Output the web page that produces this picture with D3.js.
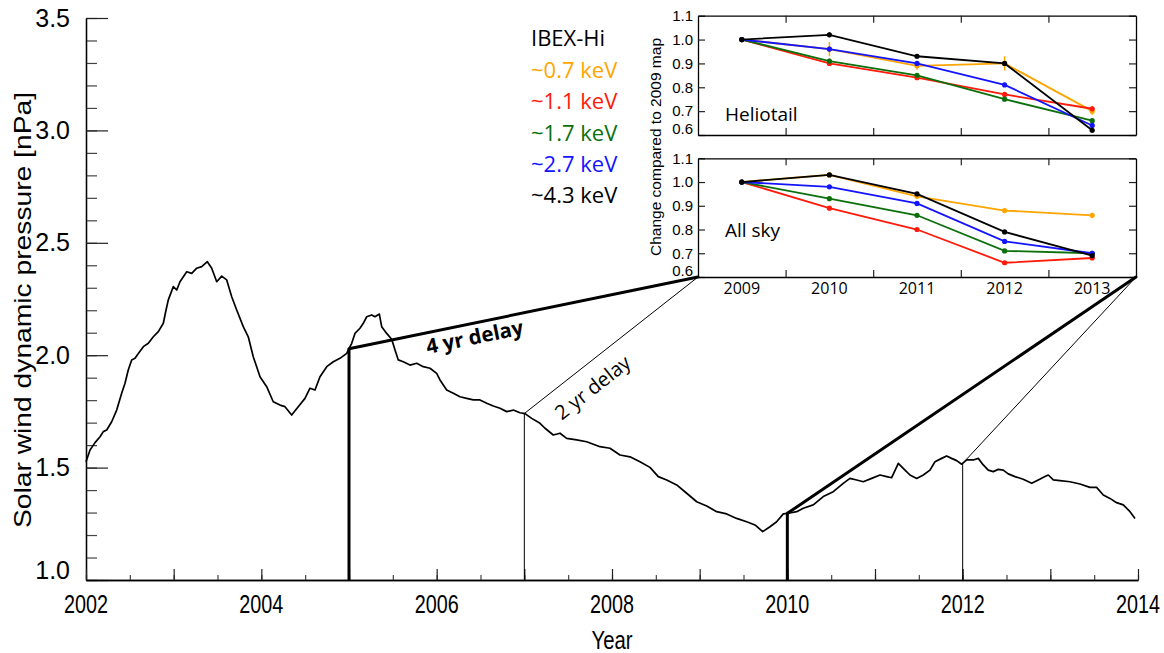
<!DOCTYPE html>
<html>
<head>
<meta charset="utf-8">
<script src="https://cdn.jsdelivr.net/npm/d3@7"></script>
<style>
  body { margin: 0; background: #fff; }
  svg { display: block; font-family: "Liberation Sans", Arial, sans-serif; }
  .hum { font-family: "Open Sans", sans-serif; }
</style>
</head>
<body>
<svg id="chart" width="1164" height="653"></svg>
<script>
// solar wind dynamic pressure (nPa)
var years = [2002.000, 2002.046, 2002.103, 2002.160, 2002.197, 2002.236, 2002.293, 2002.350, 2002.407, 2002.445,
  2002.482, 2002.521, 2002.559, 2002.597, 2002.654, 2002.711, 2002.768, 2002.825, 2002.882, 2002.913,
  2002.939, 2002.996, 2003.035, 2003.072, 2003.149, 2003.206, 2003.263, 2003.320, 2003.384, 2003.434,
  2003.491, 2003.548, 2003.605, 2003.662, 2003.719, 2003.794, 2003.851, 2003.908, 2003.985, 2004.061,
  2004.136, 2004.213, 2004.270, 2004.346, 2004.421, 2004.498, 2004.555, 2004.612, 2004.669, 2004.746,
  2004.821, 2004.897, 2004.974, 2005.003, 2005.031, 2005.068, 2005.125, 2005.163, 2005.202, 2005.259,
  2005.296, 2005.346, 2005.373, 2005.430, 2005.487, 2005.525, 2005.562, 2005.619, 2005.696, 2005.772,
  2005.847, 2005.924, 2006.000, 2006.038, 2006.114, 2006.190, 2006.266, 2006.342, 2006.418, 2006.494,
  2006.571, 2006.646, 2006.722, 2006.799, 2006.874, 2006.950, 2007.007, 2007.084, 2007.179, 2007.236,
  2007.330, 2007.407, 2007.483, 2007.597, 2007.711, 2007.863, 2007.977, 2008.091, 2008.205, 2008.319,
  2008.433, 2008.528, 2008.624, 2008.738, 2008.852, 2008.966, 2009.080, 2009.194, 2009.308, 2009.422,
  2009.536, 2009.631, 2009.719, 2009.802, 2009.878, 2009.954, 2010.011, 2010.107, 2010.182, 2010.296,
  2010.410, 2010.524, 2010.638, 2010.714, 2010.791, 2010.866, 2010.962, 2011.057, 2011.133, 2011.190,
  2011.266, 2011.342, 2011.399, 2011.475, 2011.551, 2011.627, 2011.684, 2011.760, 2011.817, 2011.874,
  2011.932, 2011.989, 2012.046, 2012.121, 2012.178, 2012.235, 2012.292, 2012.349, 2012.406, 2012.463,
  2012.520, 2012.597, 2012.691, 2012.787, 2012.862, 2012.939, 2012.977, 2013.034, 2013.110, 2013.224,
  2013.338, 2013.452, 2013.528, 2013.604, 2013.680, 2013.756, 2013.832, 2013.909, 2013.966];
var pressure = [1.526, 1.578, 1.611, 1.637, 1.660, 1.667, 1.704, 1.756, 1.831, 1.875,
  1.934, 1.979, 1.986, 2.008, 2.038, 2.053, 2.082, 2.105, 2.142, 2.201,
  2.246, 2.305, 2.290, 2.327, 2.371, 2.364, 2.387, 2.394, 2.416, 2.387,
  2.327, 2.352, 2.335, 2.260, 2.201, 2.127, 2.082, 1.993, 1.904, 1.860,
  1.793, 1.778, 1.771, 1.734, 1.771, 1.808, 1.853, 1.845, 1.904, 1.949,
  1.971, 1.986, 2.008, 2.031, 2.053, 2.097, 2.120, 2.142, 2.171, 2.179,
  2.171, 2.183, 2.127, 2.097, 2.071, 2.023, 1.979, 1.971, 1.956, 1.964,
  1.949, 1.942, 1.919, 1.890, 1.845, 1.831, 1.815, 1.808, 1.801, 1.801,
  1.786, 1.774, 1.764, 1.749, 1.756, 1.744, 1.740, 1.719, 1.697, 1.675,
  1.645, 1.653, 1.630, 1.623, 1.615, 1.593, 1.586, 1.556, 1.548, 1.526,
  1.501, 1.460, 1.445, 1.423, 1.386, 1.348, 1.329, 1.304, 1.294, 1.274,
  1.259, 1.245, 1.215, 1.237, 1.259, 1.294, 1.297, 1.304, 1.319, 1.334,
  1.371, 1.393, 1.430, 1.452, 1.445, 1.437, 1.452, 1.467, 1.460, 1.455,
  1.519, 1.489, 1.467, 1.452, 1.467, 1.489, 1.526, 1.541, 1.552, 1.541,
  1.531, 1.515, 1.534, 1.534, 1.541, 1.512, 1.489, 1.482, 1.492, 1.489,
  1.472, 1.460, 1.448, 1.430, 1.445, 1.460, 1.467, 1.445, 1.442, 1.437,
  1.427, 1.412, 1.412, 1.378, 1.363, 1.344, 1.334, 1.304, 1.274];

var xTickLabels = [2002, 2004, 2006, 2008, 2010, 2012, 2014];
var yTickLabels = [1.0, 1.5, 2.0, 2.5, 3.0, 3.5];

// IBEX-Hi ENA flux change compared to the 2009 map
var insetYears = [2009, 2010, 2011, 2012, 2013];
var insetTickLabels = [0.6, 0.7, 0.8, 0.9, 1.0, 1.1];
var energies = ["~0.7 keV", "~1.1 keV", "~1.7 keV", "~2.7 keV", "~4.3 keV"];
var energyColors = ["#ffa500", "#ff1a0a", "#0b700b", "#1414ff", "#000000"];

var helioOrange = [1.00, 0.96, 0.89, 0.90, 0.70];
var helioRed    = [1.00, 0.90, 0.84, 0.77, 0.71];
var helioGreen  = [1.00, 0.91, 0.85, 0.75, 0.66];
var helioBlue   = [1.00, 0.96, 0.90, 0.81, 0.64];
var helioBlack  = [1.00, 1.02, 0.93, 0.90, 0.62];
var helioOrangeErr = [0.005, 0.03, 0.015, 0.03, 0.015];
var helioOtherErr  = [0.005, 0.01, 0.008, 0.008, 0.01];

var skyOrange = [1.00, 1.03, 0.94, 0.88, 0.86];
var skyRed    = [1.00, 0.89, 0.80, 0.66, 0.68];
var skyGreen  = [1.00, 0.93, 0.86, 0.71, 0.70];
var skyBlue   = [1.00, 0.98, 0.91, 0.75, 0.70];
var skyBlack  = [1.00, 1.03, 0.95, 0.79, 0.69];

var svg = d3.select('#chart');

// ---------- main plot ----------
var x = d3.scaleLinear().domain([2002, 2014]).range([86, 1138]);
var y = d3.scaleLinear().domain([1.0, 3.5]).range([580, 18]);

function styleAxis(g, color) {
  g.selectAll('path').attr('stroke', '#000').attr('stroke-width', 1.3);
  g.selectAll('line').attr('stroke', color).attr('stroke-width', 1.2);
}

// minor ticks first, majors on top
svg.append('g')
  .attr('transform', 'translate(86,0)')
  .call(d3.axisLeft(y).tickValues(d3.range(10, 36).map(function(d){ return d / 10; }))
    .tickSize(-11).tickSizeOuter(0).tickFormat(''))
  .call(styleAxis, '#444');

var yAxis = svg.append('g')
  .attr('transform', 'translate(86,0)')
  .call(d3.axisLeft(y).tickValues(yTickLabels).tickSize(-22).tickSizeOuter(0)
    .tickPadding(16).tickFormat(d3.format('.1f')))
  .call(styleAxis, '#222');
yAxis.selectAll('text')
  .attr('font-size', 25).attr('fill', '#000')
  .attr('dy', function(d){ return d === 1.0 ? '-0.05em' : '0.32em'; });

svg.append('g')
  .attr('transform', 'translate(0,580)')
  .call(d3.axisBottom(x).tickValues(d3.range(0, 25).map(function(d){ return 2002 + d / 2; }))
    .tickSize(-5).tickSizeOuter(0).tickFormat(''))
  .call(styleAxis, '#444');

svg.append('g')
  .attr('transform', 'translate(0,580)')
  .call(d3.axisBottom(x).tickValues(d3.range(2002, 2015)).tickSize(-11).tickSizeOuter(0).tickFormat(''))
  .call(styleAxis, '#222');

svg.append('g').selectAll('text')
  .data(xTickLabels)
  .enter().append('text')
    .attr('x', function(d){ return x(d); })
    .attr('y', 613)
    .attr('text-anchor', 'middle')
    .attr('font-size', 25)
    .attr('textLength', 44)
    .attr('lengthAdjust', 'spacingAndGlyphs')
    .text(function(d){ return d; });

svg.append('text')
  .attr('x', x(2008)).attr('y', 649)
  .attr('text-anchor', 'middle')
  .attr('font-size', 25)
  .attr('textLength', 41)
  .attr('lengthAdjust', 'spacingAndGlyphs')
  .text('Year');

svg.append('text')
  .attr('transform', 'translate(31,310) rotate(-90)')
  .attr('text-anchor', 'middle')
  .attr('font-size', 24)
  .attr('textLength', 436)
  .attr('lengthAdjust', 'spacingAndGlyphs')
  .text('Solar wind dynamic pressure [nPa]');

var curve = years.map(function(t, i){ return [t, pressure[i]]; });
svg.append('path')
  .datum(curve)
  .attr('fill', 'none')
  .attr('stroke', '#000')
  .attr('stroke-width', 1.7)
  .attr('stroke-linejoin', 'round')
  .attr('d', d3.line().x(function(d){ return x(d[0]); }).y(function(d){ return y(d[1]); }));

function pressureAt(t) {
  var i = Math.max(1, d3.bisectLeft(years, t));
  var f = (t - years[i - 1]) / (years[i] - years[i - 1]);
  return pressure[i - 1] + (pressure[i] - pressure[i - 1]) * f;
}

// ---------- insets ----------
var ix = d3.scaleLinear().domain([2008.5, 2013.5]).range([698, 1136]);
var insetMidTicks = [2009.5, 2010.5, 2011.5, 2012.5];

function drawInset(top, bottom, series, errs, label, labelY) {
  var iy = d3.scaleLinear().domain([0.6, 1.1]).range([bottom, top]);
  var g = svg.append('g');

  g.append('g').attr('transform', 'translate(' + ix(2008.5) + ',0)')
    .call(d3.axisLeft(iy).tickValues(insetTickLabels).tickSize(-7).tickSizeOuter(0)
      .tickPadding(5).tickFormat(d3.format('.1f')))
    .call(styleAxis, '#222')
    .selectAll('text')
      .attr('font-size', 15).attr('fill', '#000')
      .attr('dy', function(d){ return d === 0.6 ? '-0.1em' : '0.32em'; });
  g.append('g').attr('transform', 'translate(' + ix(2013.5) + ',0)')
    .call(d3.axisRight(iy).tickValues(insetTickLabels).tickSize(-7).tickSizeOuter(0).tickFormat(''))
    .call(styleAxis, '#222');
  g.append('g').attr('transform', 'translate(0,' + top + ')')
    .call(d3.axisTop(ix).tickValues(insetMidTicks).tickSize(-7).tickSizeOuter(0).tickFormat(''))
    .call(styleAxis, '#222');
  g.append('g').attr('transform', 'translate(0,' + bottom + ')')
    .call(d3.axisBottom(ix).tickValues(insetMidTicks).tickSize(-7).tickSizeOuter(0).tickFormat(''))
    .call(styleAxis, '#222');

  var line = d3.line().x(function(d, i){ return ix(insetYears[i]); }).y(function(d){ return iy(d); });
  series.forEach(function(vals, k) {
    var col = energyColors[k];
    g.append('path').datum(vals)
      .attr('fill', 'none').attr('stroke', col).attr('stroke-width', 1.8)
      .attr('d', line);
    if (errs) {
      g.selectAll(null).data(vals).enter().append('line')
        .attr('x1', function(d, i){ return ix(insetYears[i]); })
        .attr('x2', function(d, i){ return ix(insetYears[i]); })
        .attr('y1', function(d, i){ return iy(d - errs[k][i]); })
        .attr('y2', function(d, i){ return iy(d + errs[k][i]); })
        .attr('stroke', col).attr('stroke-width', 1.5);
    }
    g.selectAll(null).data(vals).enter().append('circle')
      .attr('cx', function(d, i){ return ix(insetYears[i]); })
      .attr('cy', function(d){ return iy(d); })
      .attr('r', 2.6)
      .attr('fill', col);
  });

  g.append('text').attr('class', 'hum')
    .attr('x', 725).attr('y', labelY)
    .attr('font-size', 19)
    .text(label);
  return iy;
}

drawInset(15.7, 135, [helioOrange, helioRed, helioGreen, helioBlue, helioBlack],
  [helioOrangeErr, helioOtherErr, helioOtherErr, helioOtherErr, helioOtherErr], 'Heliotail', 121);
var skyY = drawInset(158.3, 277, [skyOrange, skyRed, skyGreen, skyBlue, skyBlack], null, 'All sky', 237);

svg.append('g').selectAll('text')
  .data(insetYears)
  .enter().append('text')
    .attr('class', 'hum')
    .attr('x', function(d){ return ix(d); })
    .attr('y', 294)
    .attr('text-anchor', 'middle')
    .attr('font-size', 16)
    .text(function(d){ return d; });

svg.append('text')
  .attr('transform', 'translate(661,147) rotate(-90)')
  .attr('text-anchor', 'middle')
  .attr('font-size', 15.5)
  .text('Change compared to 2009 map');

// legend
var legend = svg.append('g').attr('class', 'hum').attr('font-size', 22);
legend.append('text').attr('x', 531).attr('y', 46).text('IBEX-Hi');
legend.selectAll(null).data(energies).enter().append('text')
  .attr('x', 531)
  .attr('y', function(d, i){ return 78 + i * 31.3; })
  .attr('fill', function(d, i){ return energyColors[i]; })
  .text(function(d){ return d; });

// ---------- delay connectors ----------
var cornerL = [ix(2008.5), skyY(0.6)], cornerR = [ix(2013.5), skyY(0.6)];
var links = [
  { t: 2005, to: cornerL, w: 3 },
  { t: 2007, to: cornerL, w: 1 },
  { t: 2010, to: cornerR, w: 3 },
  { t: 2012, to: cornerR, w: 1 }
];
links.forEach(function(l) {
  var px = x(l.t), py = y(pressureAt(l.t));
  svg.append('line').attr('x1', px).attr('y1', y(1.0)).attr('x2', px).attr('y2', py)
    .attr('stroke', '#000').attr('stroke-width', l.w);
  svg.append('line').attr('x1', px).attr('y1', py).attr('x2', l.to[0]).attr('y2', l.to[1])
    .attr('stroke', '#000').attr('stroke-width', l.w).attr('stroke-linecap', 'round');
});

function slope(t) {
  var px = x(t), py = y(pressureAt(t));
  return Math.atan2(cornerL[1] - py, cornerL[0] - px) * 180 / Math.PI;
}
svg.append('text').attr('class', 'hum')
  .attr('transform', 'translate(476,344) rotate(' + slope(2005) + ')')
  .attr('text-anchor', 'middle')
  .attr('font-size', 20.5).attr('font-weight', 'bold')
  .text('4 yr delay');
svg.append('text').attr('class', 'hum')
  .attr('transform', 'translate(597,393) rotate(' + slope(2007) + ')')
  .attr('text-anchor', 'middle')
  .attr('font-size', 20)
  .text('2 yr delay');
</script>
</body>
</html>
